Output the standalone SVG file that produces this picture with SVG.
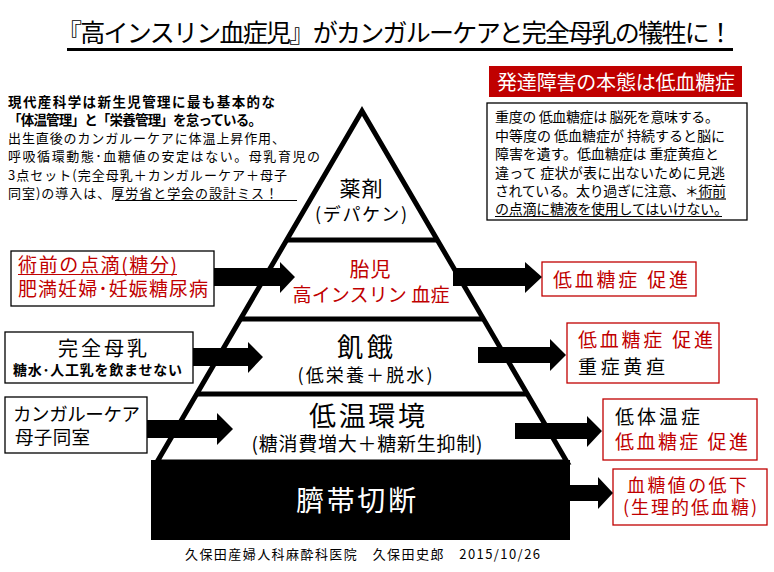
<svg xmlns="http://www.w3.org/2000/svg" width="774" height="572" viewBox="0 0 774 572">
<style>
text{font-family:"Noto Sans CJK JP","Noto Sans CJK SC",sans-serif;fill:#000}
.red{fill:#C00000}
.wh{fill:#fff}
.b{font-weight:bold}
.box{fill:#fff;stroke:#000;stroke-width:1.3}
.rbox{fill:#fff;stroke:#C00000;stroke-width:1.3}
.ul{stroke:#000;stroke-width:1.2}
.ulr{stroke:#C00000;stroke-width:1.2}
.arrow{fill:#000}
.tier{stroke:#000;stroke-width:5}
</style>
<rect width="774" height="572" fill="#fff"/>

<g id="title">
<text x="57" y="42" font-size="25" textLength="676">『高インスリン血症児』がカンガルーケアと完全母乳の犠牲に！</text>
<line x1="67" y1="49.5" x2="733" y2="49.5" stroke="#000" stroke-width="3"/>
</g>

<g id="note-left">
<text x="8" y="107" font-size="13.5" class="b" textLength="267">現代産科学は新生児管理に最も基本的な</text>
<text x="8" y="125" font-size="13.5" class="b" textLength="254">「体温管理」と「栄養管理」を怠っている。</text>
<text x="8" y="143" font-size="13" textLength="277">出生直後のカンガルーケアに体温上昇作用、</text>
<text x="8" y="161" font-size="13" textLength="312">呼吸循環動態･血糖値の安定はない。母乳育児の</text>
<text x="8" y="180" font-size="13" textLength="279">3点セット(完全母乳＋カンガルーケア＋母子</text>
<text x="8" y="198" font-size="13" textLength="270">同室)の導入は、厚労省と学会の設計ミス！</text>
<line class="ul" x1="115" y1="200.5" x2="297" y2="200.5"/>
</g>

<g id="note-right">
<rect x="489" y="66" width="253" height="31" fill="#C00000"/>
<text x="497" y="90" font-size="20" class="wh" textLength="238">発達障害の本態は低血糖症</text>
<rect class="box" x="487" y="103" width="260" height="117"/>
<text x="495" y="122" font-size="14" textLength="224">重度の 低血糖症は 脳死を意味する。</text>
<text x="495" y="141" font-size="14" textLength="230">中等度の 低血糖症が 持続すると脳に</text>
<text x="495" y="159" font-size="14" textLength="224">障害を遺す。低血糖症は 重症黄疸と</text>
<text x="495" y="178" font-size="14" textLength="230">違って 症状が表に出ないために見逃</text>
<text x="495" y="196" font-size="14" textLength="231">されている。太り過ぎに注意、＊術前</text>
<text x="495" y="214" font-size="14" textLength="233">の点滴に糖液を使用してはいけない。</text>
<line class="ul" x1="696" y1="199" x2="726" y2="199"/>
<line class="ul" x1="495" y1="216.5" x2="722" y2="216.5"/>
</g>

<g id="pyramid">
<polygon points="362,111 157,462 567,462" fill="#fff" stroke="#000" stroke-width="5" stroke-linejoin="miter"/>
<line class="tier" x1="286" y1="240" x2="438" y2="240"/>
<line class="tier" x1="240" y1="319" x2="484" y2="319"/>
<line class="tier" x1="196" y1="394" x2="528" y2="394"/>
</g>

<g id="tier-drug">
<text x="361" y="196" font-size="21" text-anchor="middle" textLength="43">薬剤</text>
<text x="361" y="221" font-size="18" text-anchor="middle" textLength="92">(デパケン)</text>
</g>
<g id="tier-fetus">
<text x="370" y="277" font-size="20" class="red" text-anchor="middle" textLength="41">胎児</text>
<text x="371" y="302" font-size="19" class="red" text-anchor="middle" textLength="157">高インスリン 血症</text>
</g>
<g id="tier-starve">
<text x="365" y="357" font-size="26" text-anchor="middle" textLength="56">飢餓</text>
<text x="365" y="382" font-size="18" text-anchor="middle" textLength="135">(低栄養＋脱水)</text>
</g>
<g id="tier-cold">
<text x="367" y="426" font-size="27" text-anchor="middle" textLength="116">低温環境</text>
<text x="367" y="451" font-size="19" text-anchor="middle" textLength="231">(糖消費増大＋糖新生抑制)</text>
</g>
<g id="tier-cord">
<rect x="151" y="460" width="419" height="80" fill="#000"/>
<text x="356" y="511" font-size="28" class="wh" text-anchor="middle" textLength="120">臍帯切断</text>
</g>

<g id="in-drip">
<rect class="box" x="11" y="251" width="203" height="55"/>
<text x="18" y="272" font-size="19" class="red" textLength="159">術前の点滴(糖分)</text>
<line class="ulr" x1="18" y1="274.5" x2="177" y2="274.5"/>
<text x="18" y="296" font-size="19" class="red" textLength="190">肥満妊婦･妊娠糖尿病</text>
</g>
<g id="in-milk">
<rect class="box" x="5" y="332" width="188" height="51"/>
<text x="58" y="356" font-size="20" textLength="89">完全母乳</text>
<text x="13" y="375" font-size="14" class="b" textLength="169">糖水･人工乳を飲ませない</text>
</g>
<g id="in-kangaroo">
<rect class="box" x="5" y="397" width="142" height="56"/>
<text x="13" y="421" font-size="18.5" textLength="127">カンガルーケア</text>
<text x="15" y="444" font-size="18.5" textLength="75">母子同室</text>
</g>

<g id="out-1">
<rect class="rbox" x="542" y="262" width="154" height="34"/>
<text x="553" y="287" font-size="19" class="red" textLength="135">低血糖症 促進</text>
</g>
<g id="out-2">
<rect class="rbox" x="567" y="323" width="152" height="60"/>
<text x="578" y="347" font-size="19" class="red" textLength="135">低血糖症 促進</text>
<text x="578" y="374" font-size="19" textLength="87">重症黄疸</text>
</g>
<g id="out-3">
<rect class="rbox" x="603" y="399" width="154" height="61"/>
<text x="615" y="424" font-size="19" textLength="85">低体温症</text>
<text x="615" y="449" font-size="19" class="red" textLength="133">低血糖症 促進</text>
</g>
<g id="out-4">
<rect class="rbox" x="613" y="469" width="154" height="56"/>
<text x="627" y="492" font-size="18" class="red" textLength="120">血糖値の低下</text>
<text x="623" y="514" font-size="18" class="red" textLength="134">(生理的低血糖)</text>
</g>

<g id="connectors">
<polygon class="arrow" points="214,268 280,268 280,262 295,277 280,293 280,286 214,286"/>
<polygon class="arrow" points="193,348 248,348 248,342 263,357 248,373 248,366 193,366"/>
<polygon class="arrow" points="147,420 217,420 217,413 233,429 217,445 217,438 147,438"/>
<polygon class="arrow" points="453,268 525,268 525,262 542,277 525,293 525,286 453,286"/>
<polygon class="arrow" points="478,347 550,347 550,339 566,355 550,371 550,363 478,363"/>
<polygon class="arrow" points="515,423 587,423 587,416 602,431 587,447 587,439 515,439"/>
<polygon class="arrow" points="570,485 598,485 598,477 613,493 598,509 598,501 570,501"/>
</g>

<g id="footer">
<text x="185" y="559" font-size="13" textLength="355">久保田産婦人科麻酔科医院　久保田史郎　2015/10/26</text>
</g>
</svg>
